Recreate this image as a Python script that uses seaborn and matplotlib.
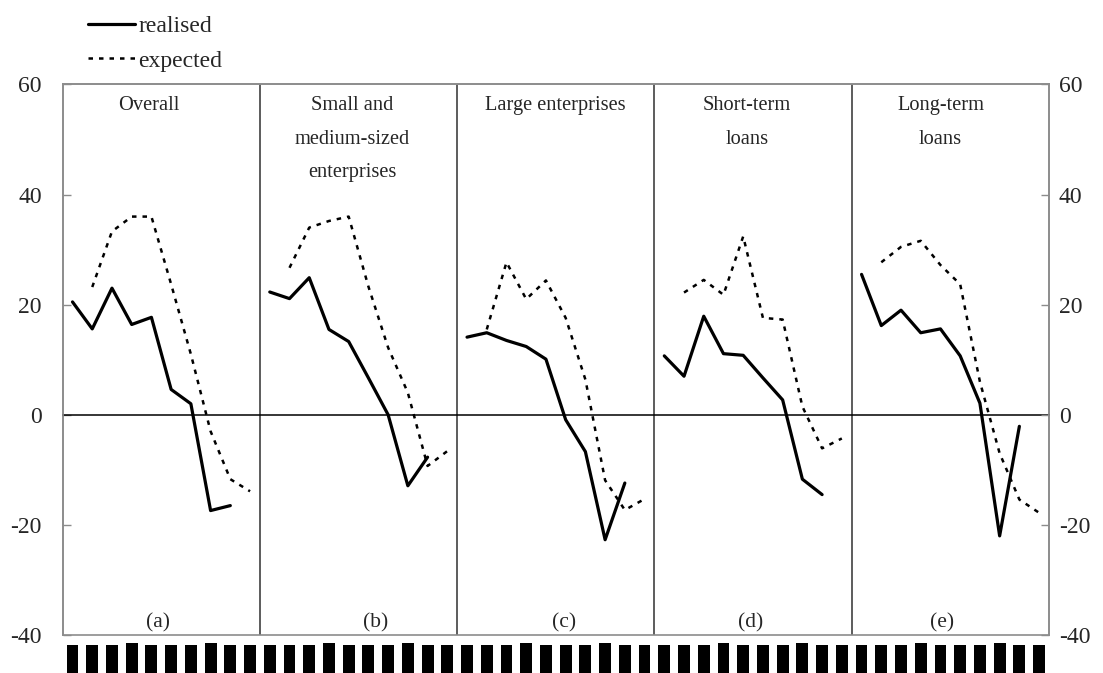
import numpy as np
import pandas as pd
import seaborn as sns
import matplotlib.pyplot as plt

sns.set_style('white')
plt.rcParams['font.family'] = ['Liberation Serif', 'DejaVu Serif']
plt.rcParams['axes.unicode_minus'] = False

# panel headings and bottom letters
panels = ['Overall', 'Small and\nmedium-sized\nenterprises', 'Large enterprises',
          'Short-term\nloans', 'Long-term\nloans']
letters = ['(a)', '(b)', '(c)', '(d)', '(e)']

# 10 periods per panel, nan = no value
realised = {
    'Overall': [20.5, 15.6, 23.0, 16.4, 17.7, 4.6, 2.0, -17.4, -16.5, np.nan],
    'Small': [22.3, 21.1, 24.9, 15.5, 13.3, 6.7, 0.0, -12.9, -7.7, np.nan],
    'Large': [14.1, 14.9, 13.5, 12.4, 10.1, -0.9, -6.7, -22.7, -12.4, np.nan],
    'Short': [10.7, 7.0, 17.9, 11.1, 10.8, 6.7, 2.7, -11.7, -14.5, np.nan],
    'Long': [25.5, 16.2, 19.0, 14.9, 15.6, 10.7, 2.1, -22.0, -2.1, np.nan],
}
expected = {
    'Overall': [np.nan, 23.2, 33.3, 36.0, 36.0, 23.7, 11.0, -3.0, -11.7, -13.9],
    'Small': [np.nan, 26.7, 34.0, 35.2, 36.0, 23.3, 12.2, 4.0, -9.3, -6.6],
    'Large': [np.nan, 15.5, 27.7, 21.0, 24.4, 17.6, 6.4, -11.9, -17.3, -15.3],
    'Short': [np.nan, 22.2, 24.5, 21.8, 32.4, 17.6, 17.3, 1.5, -6.1, -4.3],
    'Long': [np.nan, 27.7, 30.5, 31.6, 27.2, 23.7, 6.0, -7.0, -15.4, -17.8],
}

# the blacked-out period labels under the axis (taller ones marked 1.0)
label_marks = [0.93, 0.93, 0.93, 1.0, 0.93, 0.93, 0.93, 1.0, 0.93, 0.93,
               0.93, 0.93, 0.93, 1.0, 0.93, 0.93, 0.93, 1.0, 0.93, 0.93,
               0.93, 0.93, 0.93, 1.0, 0.93, 0.93, 0.93, 1.0, 0.93, 0.93,
               0.93, 0.93, 0.93, 1.0, 0.93, 0.93, 0.93, 1.0, 0.93, 0.93,
               0.93, 0.93, 0.93, 1.0, 0.93, 0.93, 0.93, 1.0, 0.93, 0.93]

title_x = [4.35, 14.7, 24.95, 34.7, 44.5]
letter_x = [4.85, 15.85, 25.4, 34.9, 44.6]

n = 10
rows = []
for p, key in enumerate(realised):
    for k in range(n):
        rows.append({'panel': p, 'x': p * n + k + 0.5, 'series': 'realised', 'value': realised[key][k]})
        rows.append({'panel': p, 'x': p * n + k + 0.5, 'series': 'expected', 'value': expected[key][k]})
df = pd.DataFrame(rows).dropna()

fig = plt.figure(figsize=(11.03, 6.73), dpi=100)
ax = fig.add_axes([0.0568, 0.0565, 0.8942, 0.818])

sns.lineplot(data=df[df['series'] == 'realised'], x='x', y='value', units='panel',
             estimator=None, color='black', lw=2.3, ax=ax, legend=False, sort=False)
sns.lineplot(data=df[df['series'] == 'expected'], x='x', y='value', units='panel',
             estimator=None, color='black', lw=1.8, linestyle=(0, (1.8, 2.4)),
             ax=ax, legend=False, sort=False)

npan = len(panels)
ax.set_xlim(0, n * npan)
ax.set_ylim(-40, 60)
ax.set_xlabel('')
ax.set_ylabel('')

frame = '#8c8c8c'
for s in ['left', 'top', 'right']:
    ax.spines[s].set_color(frame)
    ax.spines[s].set_linewidth(1.2)
ax.spines['bottom'].set_position(('data', 0))
ax.spines['bottom'].set_color('black')
ax.spines['bottom'].set_linewidth(1.1)
ax.set_xticks(np.arange(1, n * npan))
ax.tick_params(axis='x', direction='out', length=3, width=0.8, color='black', labelbottom=False)
ax.set_yticks([-40, -20, 0, 20, 40, 60])
ax.tick_params(axis='y', direction='in', length=6, width=1, color=frame, labelsize=17, pad=15)

ax2 = ax.twinx()
ax2.set_ylim(-40, 60)
ax2.set_yticks([-40, -20, 0, 20, 40, 60])
ax2.tick_params(axis='y', direction='in', length=6, width=1, color=frame, labelsize=17, pad=7)
for s in ax2.spines.values():
    s.set_color(frame)
    s.set_linewidth(1.2)

for b in range(n, n * npan, n):
    ax.axvline(b, color='#303030', lw=1.1)

# heading: first line baseline at the same height in every panel
line_step = 6.09  # one heading line in data units
for i in range(npan):
    extra = panels[i].count('\n')
    ax.text(title_x[i], 55.3 - extra * line_step, panels[i], ha='center', va='baseline',
            fontsize=14.7, linespacing=2.05)
    ax.text(letter_x[i], -38.7, letters[i], ha='center', va='baseline', fontsize=15.5)

# legend top-left
lines = ax.get_lines()
fig.legend(handles=[lines[0], lines[npan]], labels=['realised', 'expected'],
           loc='upper left', bbox_to_anchor=(0.0798, 0.977), frameon=False,
           borderpad=0, borderaxespad=0, handlelength=2.0, handletextpad=0.12,
           labelspacing=0.56, fontsize=17)

# strip with the period label blocks
bax = fig.add_axes([0.0568, 0.0, 0.8942, 0.0446])
sns.barplot(x=np.arange(len(label_marks)), y=label_marks, color='black',
            width=0.6, linewidth=0, saturation=1, ax=bax)
bax.set_xlim(-0.5, len(label_marks) - 0.5)
bax.set_ylim(0, 1)
bax.axis('off')

fig.savefig('out.png', dpi=100)
